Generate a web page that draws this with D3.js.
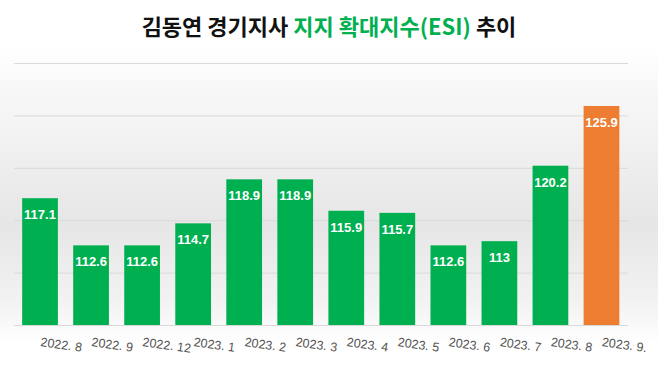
<!DOCTYPE html>
<html>
<head>
<meta charset="utf-8">
<script src="https://cdn.jsdelivr.net/npm/d3@7"></script>
<style>
  body { margin: 0; background: #fff; }
  .bar_label { font-family: "Liberation Sans", Arial, sans-serif; font-weight: bold; font-size: 13px; fill: #fff; }
  .x_label { font-family: "Liberation Sans", Arial, sans-serif; font-size: 12.5px; fill: #555; }
  .title { font-family: "Noto Sans CJK KR", sans-serif; font-weight: bold; font-size: 22px; }
</style>
</head>
<body>
<div id="chart"></div>
<script>
// data
const months = ["2022. 8", "2022. 9", "2022. 12", "2023. 1", "2023. 2", "2023. 3",
  "2023. 4", "2023. 5", "2023. 6", "2023. 7", "2023. 8", "2023. 9."]
const esi = [117.1, 112.6, 112.6, 114.7, 118.9, 118.9, 115.9, 115.7, 112.6, 113, 120.2, 125.9]
const gridTicks = [105, 110, 115, 120, 125, 130]

const width = 658, height = 368

let svg = d3.select("#chart")
  .append("svg")
  .attr("width", width)
  .attr("height", height)

// background gradient
let defs = svg.append("defs")
let bg = defs.append("linearGradient").attr("id", "bg").attr("x1", 0).attr("y1", 0).attr("x2", 0).attr("y2", 1)
bg.append("stop").attr("offset", "0%").attr("stop-color", "#ffffff")
bg.append("stop").attr("offset", "15%").attr("stop-color", "#f8f8f8")
bg.append("stop").attr("offset", "60%").attr("stop-color", "#e6e6e6")
bg.append("stop").attr("offset", "85%").attr("stop-color", "#f2f2f2")
bg.append("stop").attr("offset", "100%").attr("stop-color", "#ffffff")
svg.append("rect").attr("x", 0).attr("y", 45).attr("width", width).attr("height", 300).style("fill", "url(#bg)")

let x = d3.scaleBand()
  .domain(months)
  .range([14.5, 627])
  .paddingInner(0.3)
  .paddingOuter(0.15)

let y = d3.scaleLinear()
  .domain([105, 130])
  .range([325, 63])

// gridlines
svg.append("g")
  .attr("transform", "translate(14,0)")
  .call(d3.axisLeft(y).tickValues(gridTicks).tickSize(-614).tickFormat(""))
  .call(g => g.select(".domain").remove())
  .call(g => g.selectAll("line").attr("stroke", "#d9d9d9"))

// bars
svg.selectAll(".bar")
  .data(esi)
  .enter().append("rect")
  .attr("class", "bar")
  .attr("x", (d, i) => x(months[i]))
  .attr("y", d => y(d))
  .attr("width", x.bandwidth())
  .attr("height", d => y(105) - y(d))
  .style("fill", (d, i) => i === esi.length - 1 ? "#ed7d31" : "#00b050")

// value labels
svg.selectAll(".bar_label")
  .data(esi)
  .enter().append("text")
  .attr("class", "bar_label")
  .attr("x", (d, i) => x(months[i]) + x.bandwidth() / 2)
  .attr("y", d => y(d) + 21)
  .attr("text-anchor", "middle")
  .text(d => d)

// x labels, tilted
svg.selectAll(".x_label")
  .data(months)
  .enter().append("text")
  .attr("class", "x_label")
  .attr("transform", d => `translate(${x(d) + x.bandwidth() / 2},346) rotate(8)`)
  .text(d => d)

// title
let title = svg.append("text")
  .attr("class", "title")
  .attr("x", width / 2)
  .attr("y", 35)
  .attr("text-anchor", "middle")
title.append("tspan").style("fill", "#111").text("김동연 경기지사 ")
title.append("tspan").style("fill", "#00b050").text("지지 확대지수(ESI)")
title.append("tspan").style("fill", "#111").text(" 추이")
</script>
</body>
</html>
